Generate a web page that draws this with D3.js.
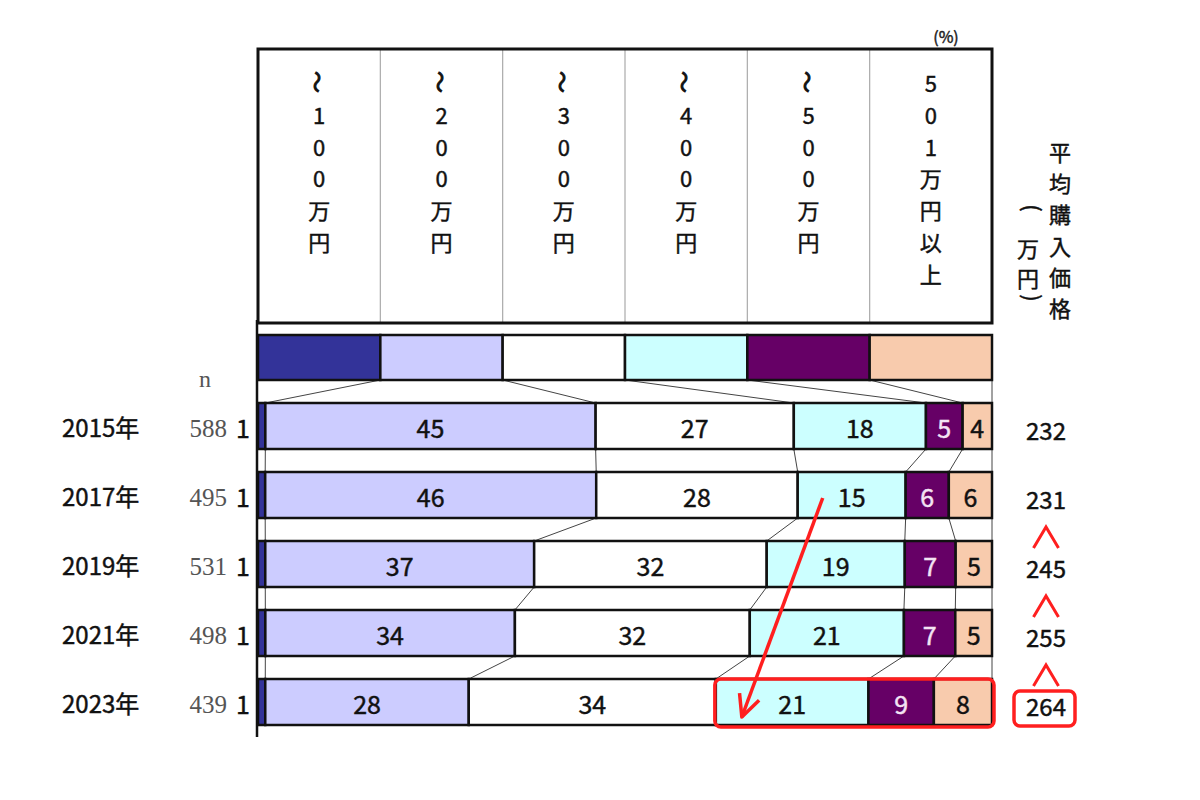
<!DOCTYPE html>
<html><head><meta charset="utf-8">
<script src="https://cdn.jsdelivr.net/npm/d3@7"></script>
<style>body{margin:0;background:#fff}</style>
</head><body><svg id="c" width="1200" height="800"></svg>
<script>
const categories = ["～100万円","～200万円","～300万円","～400万円","～500万円","501万円以上"];
const colors = ["#333399","#CCCCFF","#FFFFFF","#CCFFFF","#660066","#F8CBAD"];
const labelColors = ["#111","#111","#111","#111","#F4E4F4","#111"];
const years = ["2015年","2017年","2019年","2021年","2023年"];
const nValues = [588,495,531,498,439];
const s100 = [1,1,1,1,1];
const s200 = [45,46,37,34,28];
const s300 = [27,28,32,32,34];
const s400 = [18,15,19,21,21];
const s500 = [5,6,7,7,9];
const s501 = [4,6,5,5,8];
const avgPrice = [232,231,245,255,264];
const priceUp = [false,false,true,true,true];
const unitLabel = "(%)";
const nLabel = "n";
const priceTitle = "平均購入価格";
const priceUnit = "(万円)";

const series = [s100,s200,s300,s400,s500,s501];
const rows = years.map((y,i)=>{const r={year:y}; categories.forEach((c,k)=>r[c]=series[k][i]); return r;});
const stack = d3.stack().keys(categories).offset(d3.stackOffsetExpand)(rows);

const svg = d3.select("#c");
const FONT = "'Noto Sans CJK JP','Noto Sans',sans-serif";
const RED = "#FF1F1F";

const x = d3.scaleLinear().domain([0,1]).range([258,992]);
const xc = d3.scaleBand().domain(categories).range([258,992]);
const y = d3.scaleBand().domain(years).range([403,725]).paddingInner(1/3);
const bw = y.bandwidth();
const color = d3.scaleOrdinal().domain(categories).range(colors);

function sans(sel, size, fill){
  return sel.attr("font-family",FONT).attr("font-size",size).attr("fill",fill||"#111")
    .attr("stroke",fill||"#111").attr("stroke-width",0.45);
}

// header box
const hTop = 49, hBot = 323;
svg.append("g").selectAll("line").data(categories.slice(1)).join("line")
  .attr("x1",d=>xc(d)).attr("x2",d=>xc(d)).attr("y1",hTop).attr("y2",hBot)
  .attr("stroke","#aaa").attr("stroke-width",1.2);
svg.append("rect").attr("x",258).attr("y",hTop).attr("width",734).attr("height",hBot-hTop)
  .attr("fill","none").attr("stroke","#111").attr("stroke-width",3);

const rotChars = new Set(["～","(",")"]);
const hg = svg.append("g");
categories.forEach(c=>{
  const chars = Array.from(c);
  const cx = xc(c)+xc.bandwidth()/2;
  chars.forEach((ch,j)=>{
    const cy = 82 + j*31.8;
    const t = sans(hg.append("text").text(ch).attr("x",cx).attr("y",cy)
      .attr("text-anchor","middle").attr("dominant-baseline","central"), 22);
    if(rotChars.has(ch)) t.attr("transform",`rotate(90,${cx},${cy})`).attr("stroke-width",1);
  });
});
sans(svg.append("text").text(unitLabel).attr("x",946).attr("y",36).attr("text-anchor","middle")
  .attr("dominant-baseline","central"), 16, "#222");

// right header
Array.from(priceTitle).forEach((ch,j)=>{
  sans(svg.append("text").text(ch).attr("x",1060).attr("y",151+j*31.2)
    .attr("text-anchor","middle").attr("dominant-baseline","central"), 22);
});
const unitY = [208,247,277,298];
Array.from(priceUnit).forEach((ch,j)=>{
  const rot = rotChars.has(ch);
  const ux = rot ? 1034 : 1028;
  const t = sans(svg.append("text").text(ch).attr("x",ux).attr("y",unitY[j])
    .attr("text-anchor","middle").attr("dominant-baseline","central"), 22);
  if(rot) t.attr("transform",`rotate(90,${ux},${unitY[j]})`);
});

// connectors
const cg = svg.append("g").attr("stroke","#444").attr("stroke-width",1);
stack.forEach((s,k)=>{
  const cat = categories[k];
  cg.append("line").attr("x1",xc(cat)+xc.bandwidth()).attr("y1",380)
    .attr("x2",x(s[0][1])).attr("y2",y(years[0]));
  for(let i=1;i<years.length;i++){
    cg.append("line").attr("x1",x(s[i-1][1])).attr("y1",y(years[i-1])+bw)
      .attr("x2",x(s[i][1])).attr("y2",y(years[i]));
  }
});

// legend
svg.append("g").selectAll("rect").data(categories).join("rect")
  .attr("x",d=>xc(d)).attr("y",335).attr("width",xc.bandwidth()).attr("height",45)
  .attr("fill",d=>color(d)).attr("stroke","#111").attr("stroke-width",2.5);

// bars
const bg = svg.append("g");
stack.forEach((s,k)=>{
  bg.selectAll(null).data(s).join("rect")
    .attr("x",d=>x(d[0])).attr("y",d=>y(d.data.year))
    .attr("width",d=>x(d[1])-x(d[0])).attr("height",bw)
    .attr("fill",color(categories[k])).attr("stroke","#111").attr("stroke-width",2.5);
});
stack.forEach((s,k)=>{
  sans(bg.selectAll(null).data(s).join("text")
    .text(d=>d.data[categories[k]])
    .attr("x",d=> k===0 ? 243 : (x(d[0])+x(d[1]))/2)
    .attr("y",d=>y(d.data.year)+bw/2+1)
    .attr("text-anchor","middle").attr("dominant-baseline","central"), 25, labelColors[k]);
});

// axis line
svg.append("line").attr("x1",257).attr("x2",257).attr("y1",320).attr("y2",737)
  .attr("stroke","#111").attr("stroke-width",2.5);

// left labels
sans(svg.append("g").selectAll("text").data(years).join("text").text(d=>d)
  .attr("x",62).attr("y",d=>y(d)+bw/2).attr("dominant-baseline","central"), 24);
svg.append("g").selectAll("text").data(nValues).join("text").text(d=>d)
  .attr("x",227).attr("y",(d,i)=>y(years[i])+bw/2+2).attr("text-anchor","end")
  .attr("dominant-baseline","central")
  .attr("font-family","'Liberation Serif',serif").attr("font-size",25).attr("fill","#555");
svg.append("text").text(nLabel).attr("x",205).attr("y",379).attr("text-anchor","middle")
  .attr("dominant-baseline","central")
  .attr("font-family","'Liberation Serif',serif").attr("font-size",24).attr("fill","#555");

// price labels
sans(svg.append("g").selectAll("text").data(avgPrice).join("text").text(d=>d)
  .attr("x",1046).attr("y",(d,i)=>y(years[i])+bw/2+3).attr("text-anchor","middle")
  .attr("dominant-baseline","central"), 24);
svg.append("g").selectAll("path").data(years.filter((d,i)=>priceUp[i])).join("path")
  .attr("d",d=>`M${1046-12.5},${y(d)+7} L1046,${y(d)-14} L${1046+12.5},${y(d)+7}`)
  .attr("fill","none").attr("stroke",RED).attr("stroke-width",3);

// highlight boxes
const last = years.length-1;
const y23 = y(years[last]);
const hx0 = x(stack[3][last][0]);
svg.append("rect").attr("x",hx0-1).attr("y",y23).attr("width",994-hx0+1).attr("height",bw+2)
  .attr("rx",6).attr("fill","none").attr("stroke",RED).attr("stroke-width",3.5);
svg.append("rect").attr("x",1014).attr("y",y23+12).attr("width",61).attr("height",35)
  .attr("rx",6).attr("fill","none").attr("stroke",RED).attr("stroke-width",3.5);

// arrow
const ax0 = x(stack[3][1][0])+25, ay0 = y(years[1])+bw/2+3;
const ax1 = x(stack[3][last][0])+26, ay1 = y23+bw-8;
svg.append("line").attr("x1",ax0).attr("y1",ay0).attr("x2",ax1).attr("y2",ay1)
  .attr("stroke",RED).attr("stroke-width",3.5);
const ang = Math.atan2(ay0-ay1, ax0-ax1);
const L = 24, spread = 0.45;
const p1 = [ax1+L*Math.cos(ang-spread), ay1+L*Math.sin(ang-spread)];
const p2 = [ax1+L*Math.cos(ang+spread), ay1+L*Math.sin(ang+spread)];
svg.append("path").attr("d",`M${p1[0]},${p1[1]} L${ax1},${ay1} L${p2[0]},${p2[1]}`)
  .attr("fill","none").attr("stroke",RED).attr("stroke-width",3.5).attr("stroke-linejoin","round");
</script></body></html>
